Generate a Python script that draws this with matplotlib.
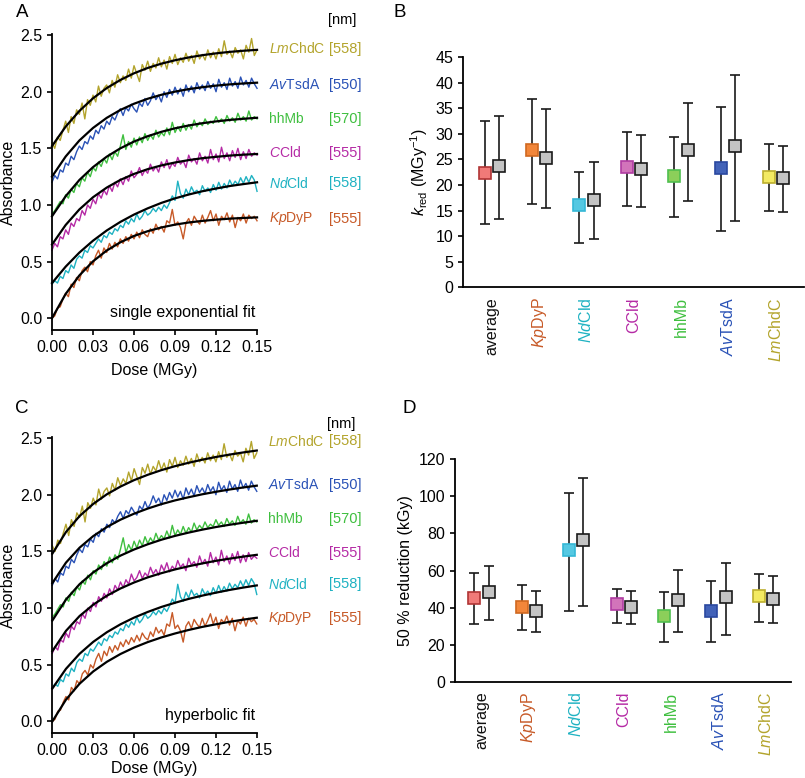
import numpy as np
import matplotlib
matplotlib.use("Agg")
import matplotlib.pyplot as plt

plt.rcParams['font.family'] = ['Liberation Sans', 'DejaVu Sans']
plt.rcParams['mathtext.fontset'] = 'custom'
plt.rcParams['mathtext.rm'] = 'Liberation Sans'
plt.rcParams['mathtext.it'] = 'Liberation Sans:italic'
plt.rcParams['font.size'] = 11

# ---- panels A / C : absorbance traces (same raw data, two fits) ----
species = ['LmChdC', 'AvTsdA', 'hhMb', 'CCld', 'NdCld', 'KpDyP']
species_tex = [r'$\mathit{Lm}$ChdC', r'$\mathit{Av}$TsdA', 'hhMb',
               r'$\mathit{C}$Cld', r'$\mathit{Nd}$Cld', r'$\mathit{Kp}$DyP']
wavelengths = [558, 550, 570, 555, 558, 555]
colors = ['#b3a42c', '#2a52b6', '#3fbf3f', '#b52aa5', '#1fb2c2', '#c75a28']

dose = np.linspace(0, 0.15, 76)      # MGy, measured grid
fit_dose = np.linspace(0, 0.15, 16)  # MGy, fit curve readout grid

trace_lm = [1.55, 1.50, 1.60, 1.57, 1.66, 1.74, 1.64, 1.78, 1.72, 1.84, 1.80, 1.90, 1.76, 1.93, 1.88, 1.97,
            1.91, 2.05, 1.96, 2.03, 2.06, 1.99, 2.10, 2.04, 2.15, 2.08, 2.14, 2.10, 2.20, 2.12, 2.23, 2.16,
            2.09, 2.24, 2.19, 2.27, 2.18, 2.25, 2.21, 2.30, 2.22, 2.28, 2.20, 2.31, 2.25, 2.33, 2.24, 2.30,
            2.26, 2.34, 2.27, 2.32, 2.25, 2.36, 2.29, 2.33, 2.28, 2.37, 2.30, 2.35, 2.29, 2.38, 2.31, 2.45,
            2.33, 2.36, 2.30, 2.39, 2.34, 2.37, 2.29, 2.41, 2.35, 2.47, 2.32, 2.37]
trace_av = [1.20, 1.26, 1.23, 1.31, 1.29, 1.37, 1.35, 1.43, 1.40, 1.47, 1.52, 1.49, 1.56, 1.54, 1.61, 1.58,
            1.66, 1.63, 1.70, 1.67, 1.74, 1.71, 1.78, 1.75, 1.81, 1.85, 1.79, 1.86, 1.83, 1.89, 1.85, 1.82,
            1.90, 1.87, 1.94, 1.88, 1.92, 1.99, 1.93, 1.97, 1.91, 2.00, 1.95, 2.02, 1.97, 2.04, 1.98, 2.03,
            1.96, 2.06, 2.00, 2.05, 1.99, 2.08, 2.02, 2.06, 2.01, 2.09, 2.03, 2.07, 2.00, 2.11, 2.04, 2.08,
            2.02, 2.12, 2.05, 2.09, 2.03, 2.13, 2.06, 2.10, 2.04, 2.12, 2.07, 2.03]
trace_hh = [0.92, 0.95, 0.99, 1.03, 1.01, 1.09, 1.06, 1.14, 1.11, 1.19, 1.16, 1.24, 1.21, 1.29, 1.25, 1.33,
            1.30, 1.38, 1.34, 1.41, 1.37, 1.45, 1.40, 1.47, 1.43, 1.52, 1.62, 1.49, 1.56, 1.51, 1.59, 1.53,
            1.60, 1.55, 1.63, 1.57, 1.62, 1.58, 1.66, 1.60, 1.64, 1.61, 1.68, 1.62, 1.73, 1.64, 1.69, 1.65,
            1.72, 1.66, 1.71, 1.67, 1.75, 1.69, 1.73, 1.70, 1.76, 1.71, 1.74, 1.72, 1.78, 1.73, 1.76, 1.72,
            1.79, 1.74, 1.77, 1.73, 1.81, 1.75, 1.78, 1.74, 1.83, 1.75, 1.78, 1.76]
trace_cc = [0.60, 0.66, 0.63, 0.72, 0.70, 0.78, 0.74, 0.84, 0.81, 0.88, 0.86, 0.95, 0.91, 1.00, 0.97, 1.05,
            1.01, 1.10, 1.06, 1.13, 1.09, 1.17, 1.12, 1.20, 1.16, 1.23, 1.18, 1.25, 1.21, 1.30, 1.24, 1.27,
            1.33, 1.26, 1.31, 1.28, 1.36, 1.30, 1.34, 1.29, 1.38, 1.33, 1.40, 1.32, 1.37, 1.34, 1.42, 1.36,
            1.39, 1.33, 1.44, 1.38, 1.41, 1.36, 1.46, 1.39, 1.43, 1.37, 1.49, 1.40, 1.45, 1.38, 1.51, 1.41,
            1.46, 1.39, 1.48, 1.42, 1.50, 1.40, 1.47, 1.41, 1.49, 1.43, 1.46, 1.44]
trace_nd = [0.30, 0.33, 0.31, 0.37, 0.35, 0.42, 0.40, 0.47, 0.44, 0.52, 0.55, 0.53, 0.60, 0.58, 0.64, 0.62,
            0.66, 0.70, 0.67, 0.73, 0.71, 0.76, 0.74, 0.79, 0.77, 0.82, 0.80, 0.86, 0.83, 0.88, 0.85, 0.92,
            0.87, 0.90, 0.95, 0.91, 0.93, 0.97, 0.94, 0.98, 0.95, 1.00, 0.97, 1.02, 1.08, 1.04, 1.21, 1.10,
            1.06, 1.14, 1.09, 1.16, 1.11, 1.13, 1.09, 1.17, 1.12, 1.15, 1.11, 1.18, 1.13, 1.20, 1.14, 1.19,
            1.15, 1.22, 1.17, 1.21, 1.18, 1.24, 1.19, 1.25, 1.20, 1.26, 1.22, 1.12]
trace_kp = [0.00, 0.02, 0.09, 0.10, 0.17, 0.22, 0.19, 0.30, 0.27, 0.36, 0.33, 0.42, 0.45, 0.41, 0.50, 0.47,
            0.55, 0.60, 0.53, 0.62, 0.58, 0.66, 0.61, 0.67, 0.63, 0.70, 0.66, 0.72, 0.68, 0.74, 0.70, 0.76,
            0.71, 0.78, 0.74, 0.72, 0.79, 0.75, 0.83, 0.78, 0.81, 0.76, 0.86, 0.84, 0.96, 0.82, 0.85, 0.80,
            0.70, 0.84, 0.88, 0.82, 0.90, 0.86, 0.83, 0.91, 0.84, 0.89, 0.95, 0.86, 0.92, 0.82, 0.90, 0.87,
            0.93, 0.85, 0.91, 0.80, 0.89, 0.86, 0.92, 0.84, 0.91, 0.88, 0.90, 0.86]
traces = [trace_lm, trace_av, trace_hh, trace_cc, trace_nd, trace_kp]

# single exponential fit curves (panel A)
exp_fit_lm = [1.520, 1.692, 1.830, 1.942, 2.032, 2.104, 2.163, 2.210, 2.248, 2.278, 2.303, 2.323, 2.339, 2.352, 2.362, 2.370]
exp_fit_av = [1.250, 1.428, 1.569, 1.680, 1.769, 1.839, 1.894, 1.938, 1.973, 2.001, 2.023, 2.040, 2.054, 2.065, 2.073, 2.080]
exp_fit_hh = [0.900, 1.077, 1.220, 1.334, 1.426, 1.500, 1.560, 1.607, 1.646, 1.677, 1.702, 1.722, 1.738, 1.751, 1.761, 1.770]
exp_fit_cc = [0.650, 0.823, 0.960, 1.068, 1.153, 1.221, 1.274, 1.316, 1.349, 1.375, 1.396, 1.413, 1.425, 1.436, 1.444, 1.450]
exp_fit_nd = [0.310, 0.455, 0.579, 0.684, 0.774, 0.850, 0.915, 0.970, 1.018, 1.058, 1.092, 1.121, 1.145, 1.167, 1.184, 1.200]
exp_fit_kp = [0.000, 0.214, 0.377, 0.502, 0.597, 0.670, 0.726, 0.768, 0.801, 0.826, 0.845, 0.859, 0.870, 0.879, 0.885, 0.890]
exp_fits = [exp_fit_lm, exp_fit_av, exp_fit_hh, exp_fit_cc, exp_fit_nd, exp_fit_kp]

# hyperbolic fit curves (panel C)
hyp_fit_lm = [1.480, 1.671, 1.812, 1.919, 2.004, 2.072, 2.129, 2.176, 2.217, 2.252, 2.282, 2.309, 2.333, 2.354, 2.373, 2.390]
hyp_fit_av = [1.220, 1.401, 1.533, 1.635, 1.715, 1.780, 1.833, 1.878, 1.917, 1.950, 1.978, 2.004, 2.026, 2.046, 2.064, 2.080]
hyp_fit_hh = [0.890, 1.075, 1.211, 1.315, 1.396, 1.463, 1.517, 1.563, 1.603, 1.637, 1.666, 1.692, 1.715, 1.735, 1.753, 1.770]
hyp_fit_cc = [0.620, 0.799, 0.930, 1.030, 1.109, 1.173, 1.226, 1.271, 1.308, 1.341, 1.369, 1.394, 1.417, 1.436, 1.454, 1.470]
hyp_fit_nd = [0.290, 0.464, 0.597, 0.702, 0.787, 0.857, 0.916, 0.966, 1.010, 1.047, 1.081, 1.110, 1.136, 1.160, 1.181, 1.200]
hyp_fit_kp = [0.000, 0.192, 0.333, 0.441, 0.526, 0.595, 0.652, 0.700, 0.741, 0.776, 0.807, 0.834, 0.857, 0.879, 0.898, 0.915]
hyp_fits = [hyp_fit_lm, hyp_fit_av, hyp_fit_hh, hyp_fit_cc, hyp_fit_nd, hyp_fit_kp]

# ---- panels B / D : rate constants and half-reduction doses ----
categories = ['average', r'$\mathit{Kp}$DyP', r'$\mathit{Nd}$Cld', 'CCld', 'hhMb',
              r'$\mathit{Av}$TsdA', r'$\mathit{Lm}$ChdC']
cat_colors = ['#111111', '#c75a28', '#1fb2c2', '#b52aa5', '#3fbf3f', '#2a52b6', '#b3a42c']
face_colors = ['#f07a78', '#f2863a', '#55c8e2', '#d274ba', '#8ccf5a', '#4262b8', '#f3ea62']
edge_colors = ['#b03535', '#d06820', '#35b8d6', '#b03ca2', '#4fbf4f', '#2a48a0', '#bcae2e']

k_red_a = [22.4, 26.9, 16.1, 23.6, 21.8, 23.3, 21.6]
k_red_a_lo = [12.3, 16.3, 8.7, 16.0, 13.8, 11.1, 14.9]
k_red_a_hi = [32.4, 36.7, 22.6, 30.4, 29.3, 35.3, 28.0]
k_red_b = [23.7, 25.2, 17.1, 23.1, 26.9, 27.7, 21.4]
k_red_b_lo = [13.3, 15.5, 9.5, 15.8, 16.8, 13.0, 14.7]
k_red_b_hi = [33.4, 34.8, 24.4, 29.8, 36.1, 41.5, 27.7]

d50_a = [45.4, 40.4, 71.3, 42.2, 35.5, 38.2, 46.5]
d50_a_lo = [31.0, 27.9, 38.2, 31.9, 21.6, 21.6, 32.4]
d50_a_hi = [58.8, 52.3, 101.8, 50.0, 48.5, 54.5, 58.1]
d50_b = [48.7, 38.2, 76.5, 40.5, 44.2, 45.6, 44.9]
d50_b_lo = [33.2, 26.7, 41.1, 31.0, 26.7, 25.2, 31.7]
d50_b_hi = [62.6, 49.2, 109.9, 49.2, 60.3, 63.9, 57.3]

# where the species names sit (absorbance units) in each trace panel
label_y_a = [2.38, 2.06, 1.76, 1.46, 1.19, 0.88]
label_y_c = [2.47, 2.09, 1.79, 1.49, 1.21, 0.91]
nm_y_a = 2.63
nm_y_c = 2.62


def style_axes(ax):
    for s in ['top', 'right']:
        ax.spines[s].set_visible(False)
    for s in ['left', 'bottom']:
        ax.spines[s].set_linewidth(1.3)
    ax.tick_params(direction='out', length=3.5, width=1.2, labelsize=11.5)


def draw_traces(ax, fits, note, label_y, nm_y, xpad):
    for tr, fit, c in zip(traces, fits, colors):
        ax.plot(dose, tr, color=c, lw=1.0, clip_on=False)
        ax.plot(fit_dose, fit, color='black', lw=1.6, clip_on=False)
    ax.set_xlim(0, 0.15)
    ax.set_ylim(-0.105, 2.51)
    ax.set_xticks([0.0, 0.03, 0.06, 0.09, 0.12, 0.15])
    ax.set_xticklabels(['0.00', '0.03', '0.06', '0.09', '0.12', '0.15'])
    ax.set_yticks([0.0, 0.5, 1.0, 1.5, 2.0, 2.5])
    ax.set_yticklabels(['0.0', '0.5', '1.0', '1.5', '2.0', '2.5'])
    ax.set_xlabel('Dose (MGy)', fontsize=11.5, labelpad=xpad)
    ax.set_ylabel('Absorbance', fontsize=11.5, labelpad=3)
    style_axes(ax)
    ax.text(0.149, 0.05, note, ha='right', va='center', fontsize=11.5)
    ax.text(0.212, nm_y, '[nm]', ha='center', va='center', fontsize=10.5, clip_on=False)
    for name, wl, y, c in zip(species_tex, wavelengths, label_y, colors):
        ax.text(0.1585, y, name, color=c, ha='left', va='center', fontsize=10, clip_on=False)
        ax.text(0.2030, y, '[%d]' % wl, color=c, ha='left', va='center', fontsize=10.5, clip_on=False)


def draw_pairs(ax, va, va_lo, va_hi, vb, vb_lo, vb_hi, xlim):
    x = np.arange(len(categories))
    for i in range(len(categories)):
        ax.errorbar(x[i] - 0.15, va[i], yerr=[[va[i] - va_lo[i]], [va_hi[i] - va[i]]],
                    fmt='s', ms=8.5, mfc=face_colors[i], mec=edge_colors[i], mew=1.2,
                    ecolor='#1a1a1a', elinewidth=1.2, capsize=3.5, capthick=1.2, zorder=3)
        ax.errorbar(x[i] + 0.15, vb[i], yerr=[[vb[i] - vb_lo[i]], [vb_hi[i] - vb[i]]],
                    fmt='s', ms=8.5, mfc='#c4c4c4', mec='#1a1a1a', mew=1.2,
                    ecolor='#1a1a1a', elinewidth=1.2, capsize=3.5, capthick=1.2, zorder=3)
    ax.set_xlim(*xlim)
    ax.set_xticks(x)
    ax.set_xticklabels(categories, rotation=90, fontsize=12)
    for lab, c in zip(ax.get_xticklabels(), cat_colors):
        lab.set_color(c)
    style_axes(ax)
    ax.tick_params(axis='x', length=0, pad=7)


fig = plt.figure(figsize=(8.05, 7.78), dpi=100)

ax_a = fig.add_axes([0.0646, 0.5758, 0.2547, 0.3805])
draw_traces(ax_a, exp_fits, 'single exponential fit', label_y_a, nm_y_a, 6)

ax_c = fig.add_axes([0.0650, 0.0574, 0.2540, 0.3810])
draw_traces(ax_c, hyp_fits, 'hyperbolic fit', label_y_c, nm_y_c, 2)

ax_b = fig.add_axes([0.5752, 0.6305, 0.4236, 0.2963])
draw_pairs(ax_b, k_red_a, k_red_a_lo, k_red_a_hi, k_red_b, k_red_b_lo, k_red_b_hi, (-0.61, 6.6))
ax_b.set_ylim(0, 45)
ax_b.set_yticks(range(0, 46, 5))
ax_b.set_ylabel(r'$\mathit{k}_{\mathrm{red}}$ (MGy$^{-1}$)', fontsize=11.5, labelpad=4)

ax_d = fig.add_axes([0.5652, 0.1234, 0.4170, 0.2866])
draw_pairs(ax_d, d50_a, d50_a_lo, d50_a_hi, d50_b, d50_b_lo, d50_b_hi, (-0.56, 6.52))
ax_d.set_ylim(0, 120)
ax_d.set_yticks(range(0, 121, 20))
ax_d.set_ylabel('50 % reduction (kGy)', fontsize=11.5, labelpad=4)

for letter, x, y in [('A', 0.027, 0.984), ('B', 0.497, 0.984), ('C', 0.027, 0.475), ('D', 0.509, 0.475)]:
    fig.text(x, y, letter, fontsize=13.5, ha='center', va='center')

fig.savefig('out.png', dpi=100)
